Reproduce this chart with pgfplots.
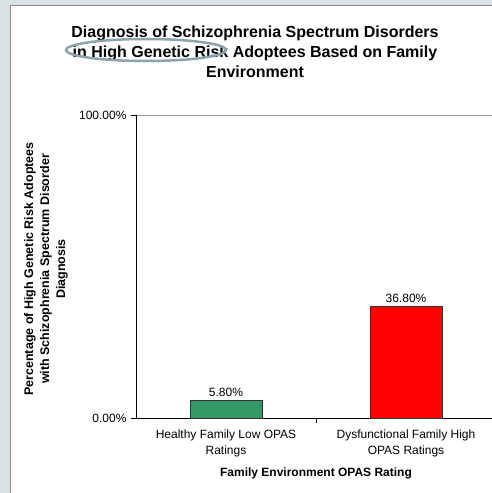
\documentclass[border=0pt]{standalone}
\usepackage{pgfplots}
\pgfplotsset{compat=1.18}
\usepackage{fontspec}
\setmainfont{Liberation Sans}
\definecolor{bgout}{HTML}{D9E1E5}
\definecolor{panelborder}{HTML}{8C8C8C}
\definecolor{exgreen}{HTML}{339966}
\definecolor{exred}{HTML}{FF0000}
\definecolor{ellcol}{HTML}{8FA3AC}
\begin{document}
\begin{tikzpicture}
\useasboundingbox (0bp,0bp) rectangle (492bp,-493bp);
\begin{scope}
\clip (0bp,0bp) rectangle (492bp,-493bp);
\fill[bgout] (0bp,0bp) rectangle (492bp,-493bp);
\fill[white] (11bp,-6bp) rectangle (500bp,-500bp);
\draw[panelborder,line width=1.5bp] (10.5bp,-500bp) -- (10.5bp,-5.5bp) -- (500bp,-5.5bp);
\begin{axis}[
  at={(136bp,-418bp)}, anchor=south west,
  scale only axis, width=360bp, height=303bp,
  xmin=-0.5, xmax=1.5, ymin=0, ymax=100,
  axis lines*=left,
  axis line style={black, line width=0.8bp},
  ytick={0,100}, yticklabels={0.00\%,100.00\%},
  ymajorgrids, major grid style={gray!80, line width=0.8bp},
  tick align=outside, major tick length=5bp, minor tick length=5bp,
  tick style={black, line width=0.8bp},
  xtick={0,1},
  xticklabels={{Healthy Family Low OPAS\\Ratings},{Dysfunctional Family High\\OPAS Ratings}},
  major x tick style={draw=none},
  minor xtick={0.5},
  xticklabel style={align=center, font=\fontsize{12bp}{16bp}\selectfont, yshift=-3bp},
  yticklabel style={font=\fontsize{12bp}{13bp}\selectfont, xshift=-1bp},
  ybar, bar width=72bp, bar shift=0pt,
  point meta=explicit symbolic,
  nodes near coords,
  nodes near coords style={font=\fontsize{12bp}{13bp}\selectfont, black, yshift=0bp},
  clip=false,
]
\addplot[fill=exgreen, draw=black!80, line width=0.8bp] coordinates {(0,5.8) [5.80\%]};
\addplot[fill=exred, draw=black!80, line width=0.8bp] coordinates {(1,36.8) [36.80\%]};
\end{axis}
\node[font=\bfseries\fontsize{16bp}{20bp}\selectfont, align=center] at (255bp,-52bp)
  {Diagnosis of Schizophrenia Spectrum Disorders\\in High Genetic Risk Adoptees Based on Family\\Environment};
\draw[ellcol, line width=2.5bp] (146bp,-50bp) ellipse (80bp and 11bp);
\node[font=\bfseries\fontsize{12.5bp}{16bp}\selectfont, align=center, rotate=90] at (46bp,-269bp)
  {Percentage of High Genetic Risk Adoptees\\with Schizophrenia Spectrum Disorder\\Diagnosis};
\node[font=\bfseries\fontsize{12bp}{13bp}\selectfont] at (316bp,-473bp) {Family Environment OPAS Rating};
\end{scope}
\end{tikzpicture}
\end{document}
